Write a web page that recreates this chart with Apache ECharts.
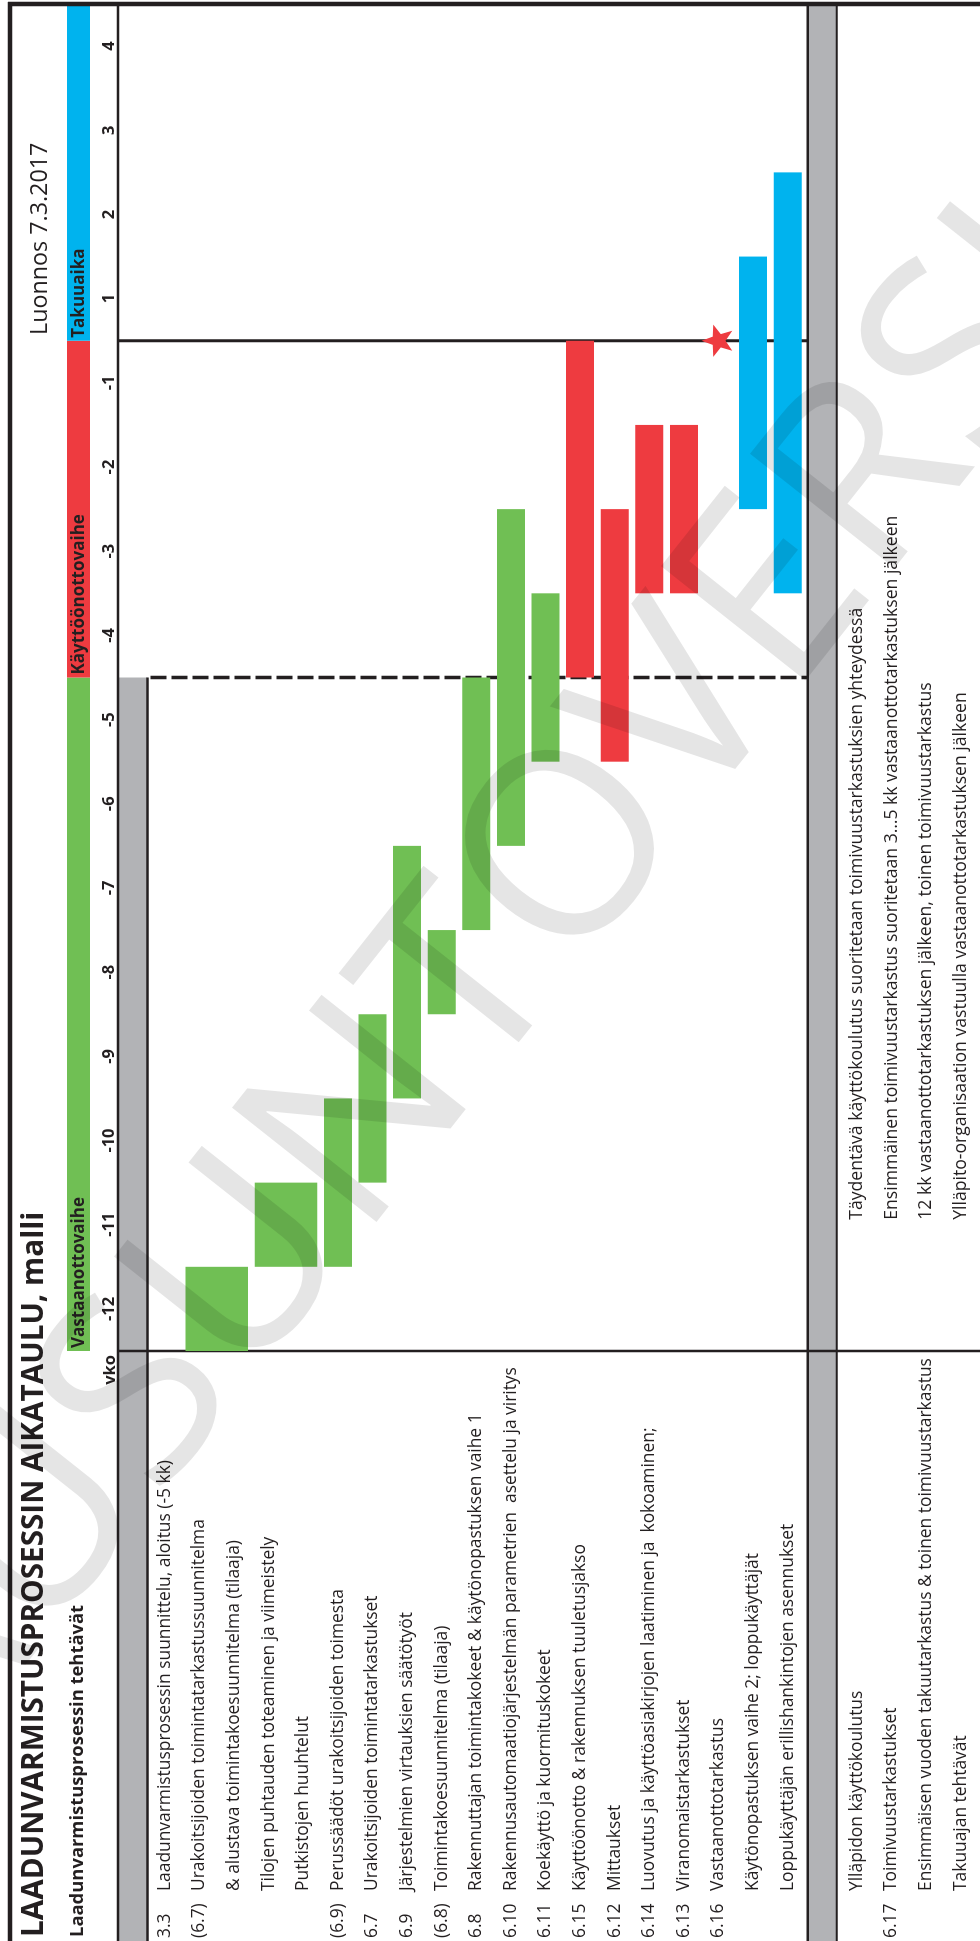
<!DOCTYPE html>
<html><head><meta charset="utf-8">
<script src="https://cdn.jsdelivr.net/npm/echarts@6/dist/echarts.min.js"></script>
<style>
html,body{margin:0;padding:0;background:#fff;overflow:hidden;}
#wrap{position:absolute;left:0;top:0;width:980px;height:1941px;overflow:hidden;background:#fff;}
#chart{position:absolute;left:0;top:0;width:1941px;height:980px;transform-origin:0 0;transform:translate(0,1941px) rotate(-90deg);}
</style></head><body><div id="wrap"><div id="chart"></div></div>
<script>
// ---- data ----
const weeks = ['-12','-11','-10','-9','-8','-7','-6','-5','-4','-3','-2','-1','1','2','3','4'];
const phaseNames = ['Vastaanottovaihe','Käyttöönottovaihe','Takuuaika'];
const phaseStart = ['-12','-4','1'];
const phaseEnd = ['-5','-1','4'];
const rowCodes = ['', '3.3', '(6.7)', '', '', '', '(6.9)', '6.7', '6.9', '(6.8)', '6.8', '6.10', '6.11', '6.15', '6.12', '6.14', '6.13', '6.16', '', '', '', '', '6.17', '', ''];
const rowTexts = [
  'LAADUNVARMISTUSPROSESSIN TOTEUTUS',
  'Laadunvarmistusprosessin suunnittelu, aloitus (-5 kk)',
  'Urakoitsijoiden toimintatarkastussuunnitelma',
  '& alustava toimintakoesuunnitelma (tilaaja)',
  'Tilojen puhtauden toteaminen ja viimeistely',
  'Putkistojen huuhtelut',
  'Perussäädöt urakoitsijoiden toimesta',
  'Urakoitsijoiden toimintatarkastukset',
  'Järjestelmien virtauksien säätötyöt',
  'Toimintakoesuunnitelma (tilaaja)',
  'Rakennuttajan toimintakokeet & käytönopastuksen vaihe 1',
  'Rakennusautomaatiojärjestelmän parametrien  asettelu ja viritys',
  'Koekäyttö ja kuormituskokeet',
  'Käyttöönotto & rakennuksen tuuletusjakso',
  'Mittaukset',
  'Luovutus ja käyttöasiakirjojen laatiminen ja  kokoaminen;',
  'Viranomaistarkastukset',
  'Vastaanottotarkastus',
  'Käytönopastuksen vaihe 2; loppukäyttäjät',
  'Loppukäyttäjän erillishankintojen asennukset',
  'TAKUUAIKA',
  'Ylläpidon käyttökoulutus',
  'Toimivuustarkastukset',
  'Ensimmäisen vuoden takuutarkastus & toinen toimivuustarkastus',
  'Takuuajan tehtävät'
];
const sectionRows = [0, 20];
const barRowFrom = [2, 4, 6, 7, 8, 9, 10, 11, 12, 13, 14, 15, 16, 18, 19];
const barRowTo   = [3, 5, 6, 7, 8, 9, 10, 11, 12, 13, 14, 15, 16, 18, 19];
const barStart = ['-12','-11','-11','-10','-9','-8','-7','-6','-5','-4','-5','-3','-3','-2','-3'];
const barEnd   = ['-12','-11','-10','-9','-7','-8','-5','-3','-4','-1','-3','-2','-2','1','2'];
const barPhase = [0,0,0,0,0,0,0,0,0,1,1,1,1,2,2];
const milestoneRow = 17;
const milestoneWeek = '-1';
const noteRows = [21, 22, 23, 24];
const noteWeek = '-11';
const noteTexts = [
  'Täydentävä käyttökoulutus suoritetaan toimivuustarkastuksien yhteydessä',
  'Ensimmäinen toimivuustarkastus suoritetaan 3…5 kk vastaanottotarkastuksen jälkeen',
  '12 kk vastaanottotarkastuksen jälkeen, toinen toimivuustarkastus',
  'Ylläpito-organisaation vastuulla vastaanottotarkastuksen jälkeen'
];
const titleText = 'LAADUNVARMISTUSPROSESSIN AIKATAULU, malli';
const subtitleText = 'Laadunvarmistusprosessin tehtävät';
const draftText = 'Luonnos 7.3.2017';
const weekAxisName = 'vko';
const watermarkText = 'LAUSUNTOVERSIO';

// ---- styles ----
const phaseColors = ['#70bf54', '#ee3b40', '#00b3ee'];
const ink = '#231f20';
const grayBand = '#b2b3b6';
const font = '"Open Sans","Noto Sans",sans-serif';
const boldFont = '"Open Sans","Noto Sans",sans-serif';

const dom = document.getElementById('chart');
const chart = echarts.init(dom, null, {renderer: 'canvas'});

const barData = barRowFrom.map((r, i) => ({
  value: [r, barRowTo[i], weeks.indexOf(barStart[i]), weeks.indexOf(barEnd[i])],
  itemStyle: {color: phaseColors[barPhase[i]]}
}));

const option = {
  animation: false,
  backgroundColor: '#fff',
  grid: {left: 589, right: 4, top: 113, bottom: 2},
  xAxis: {
    type: 'category', data: weeks, position: 'top', boundaryGap: true,
    axisLine: {show: false}, axisTick: {show: false}, splitLine: {show: false},
    axisLabel: {interval: 0, margin: 4, verticalAlign: 'middle', color: ink, fontWeight: 'bold', fontSize: 16.5, fontFamily: boldFont}
  },
  yAxis: {
    type: 'category', data: rowTexts, inverse: true,
    axisLine: {show: false}, axisTick: {show: false}, splitLine: {show: false},
    axisLabel: {
      interval: 0, margin: 587, align: 'left', color: ink,
      formatter: (v, i) => sectionRows.includes(i) ? '{h|' + v + '}' : '{c|' + (rowCodes[i] || ' ') + '}{t|' + v + '}',
      rich: {
        h: {fontWeight: 'bold', fontSize: 17.4, fontFamily: boldFont, color: ink},
        c: {width: 47, fontSize: 17.4, fontFamily: font, color: ink},
        t: {fontSize: 17.4, fontFamily: font, color: ink}
      }
    }
  },
  series: [
    {
      type: 'custom', name: 'Vaiheet', clip: false, z: 2,
      data: phaseNames.map((n, i) => [weeks.indexOf(phaseStart[i]), weeks.indexOf(phaseEnd[i]), i]),
      renderItem: (params, api) => {
        const i = api.value(2);
        const s = api.coord([api.value(0), 0]);
        const e = api.coord([api.value(1), 0]);
        const sz = api.size([1, 1]);
        const x0 = s[0] - sz[0] / 2, x1 = e[0] + sz[0] / 2;
        const top = s[1] - sz[1] / 2 - 46;
        return {type: 'group', children: [
          {type: 'rect', shape: {x: x0, y: top, width: x1 - x0, height: 23}, style: {fill: phaseColors[i]}},
          {type: 'text', style: {text: phaseNames[i], x: x0 + 3, y: top + 12, align: 'left', verticalAlign: 'middle', fill: ink, fontWeight: 'bold', fontSize: 17, fontFamily: boldFont}}
        ]};
      }
    },
    {
      type: 'custom', name: 'Tehtävät', clip: false, z: 5,
      encode: {x: [2, 3], y: [0, 1]},
      data: barData,
      renderItem: (params, api) => {
        const a = api.coord([api.value(2), api.value(0)]);
        const b = api.coord([api.value(3), api.value(1)]);
        const sz = api.size([1, 1]);
        const x0 = a[0] - sz[0] / 2, x1 = b[0] + sz[0] / 2;
        const y0 = a[1] - sz[1] / 2 + 3.3, y1 = b[1] + sz[1] / 2 - 3.3;
        return {type: 'rect', shape: {x: x0, y: y0, width: x1 - x0, height: y1 - y0}, style: {fill: api.visual('color')}};
      }
    },
    {
      type: 'custom', name: 'Huomautukset', clip: false, z: 5,
      data: noteRows.map((r, i) => [weeks.indexOf(noteWeek), r, i]),
      renderItem: (params, api) => {
        const p = api.coord([api.value(0), api.value(1)]);
        return {type: 'text', style: {text: noteTexts[api.value(2)], x: p[0] + 5, y: p[1], align: 'left', verticalAlign: 'middle', fill: ink, fontSize: 17.6, fontFamily: font}};
      }
    },
    {
      type: 'custom', name: 'Vastaanotto', clip: false, z: 8,
      data: [[weeks.indexOf(milestoneWeek), milestoneRow]],
      renderItem: (params, api) => {
        const p = api.coord([api.value(0), api.value(1)]);
        const sz = api.size([1, 1]);
        const cx = p[0] + sz[0] / 2, cy = p[1];
        const pts = [];
        for (let k = 0; k < 10; k++) {
          const r = k % 2 === 0 ? 17 : 7;
          const ang = -Math.PI / 2 + k * Math.PI / 5;
          pts.push([cx + r * Math.cos(ang), cy + r * Math.sin(ang)]);
        }
        return {type: 'polygon', shape: {points: pts}, style: {fill: phaseColors[1]}};
      }
    }
  ]
};
chart.setOption(option);

// ---- structural graphics positioned from the axes ----
const px = i => chart.convertToPixel({xAxisIndex: 0}, i);
const py = i => chart.convertToPixel({yAxisIndex: 0}, i);
const bw = px(1) - px(0), bh = py(1) - py(0);
const chartLeft = px(0) - bw / 2, chartRight = px(weeks.length - 1) + bw / 2;
const dashU = px(weeks.indexOf(phaseStart[1])) - bw / 2;
const solidU = px(weeks.indexOf(phaseStart[2])) - bw / 2;
const headTopV = 118, headBotV = py(sectionRows[0]) + bh / 2;
const takTop = py(sectionRows[1]) - 14.5, takBot = py(sectionRows[1]) + 14.5;
const H = 980;
const line = (x1, y1, x2, y2, w) => ({type: 'line', shape: {x1, y1, x2, y2}, style: {stroke: ink, lineWidth: w}, z: 3, silent: true});
const graphics = [
  {type: 'rect', shape: {x: 0, y: headTopV, width: dashU, height: headBotV - headTopV}, style: {fill: grayBand}, z: 1, silent: true},
  {type: 'rect', shape: {x: 0, y: takTop, width: chartRight, height: takBot - takTop}, style: {fill: grayBand}, z: 1, silent: true},
  line(0, headTopV, chartRight, headTopV, 2.5),
  line(0, headBotV, dashU, headBotV, 2.5),
  line(0, takTop, chartRight, takTop, 2.5),
  line(0, takBot, chartRight, takBot, 2),
  line(chartLeft, headTopV, chartLeft, H, 2.5),
  line(solidU, headTopV, solidU, takTop, 3),
  {type: 'line', shape: {x1: dashU, y1: headBotV + 3, x2: dashU, y2: takTop}, style: {stroke: ink, lineWidth: 3.5, lineDash: [16, 5]}, z: 3, silent: true},
  line(0, 10, chartRight + 2, 10, 4.5),
  line(chartRight, 8, chartRight, H, 4.5),
  {type: 'text', style: {text: weekAxisName, x: chartLeft - 4, y: 110, align: 'right', verticalAlign: 'middle', fill: ink, fontWeight: 'bold', fontSize: 16.5, fontFamily: boldFont}, z: 4},
  {type: 'text', style: {text: titleText, x: 4, y: 35, align: 'left', verticalAlign: 'middle', fill: ink, fontWeight: 'bold', fontSize: 29.7, fontFamily: boldFont}, z: 4},
  {type: 'text', style: {text: subtitleText, x: 4, y: 78, align: 'left', verticalAlign: 'middle', fill: ink, fontWeight: 'bold', fontSize: 18.4, fontFamily: boldFont}, z: 4},
  {type: 'text', style: {text: draftText, x: 1606, y: 40, align: 'left', verticalAlign: 'middle', fill: ink, fontSize: 23.3, fontFamily: font}, z: 4},
  {type: 'text', x: 977, y: 487, rotation: -0.67, style: {text: watermarkText, x: 0, y: 0, align: 'center', verticalAlign: 'middle', fill: 'rgba(0,0,0,0.1)', fontSize: 258, fontFamily: font}, z: 20, silent: true}
];
chart.setOption({graphic: graphics});
</script></body></html>
